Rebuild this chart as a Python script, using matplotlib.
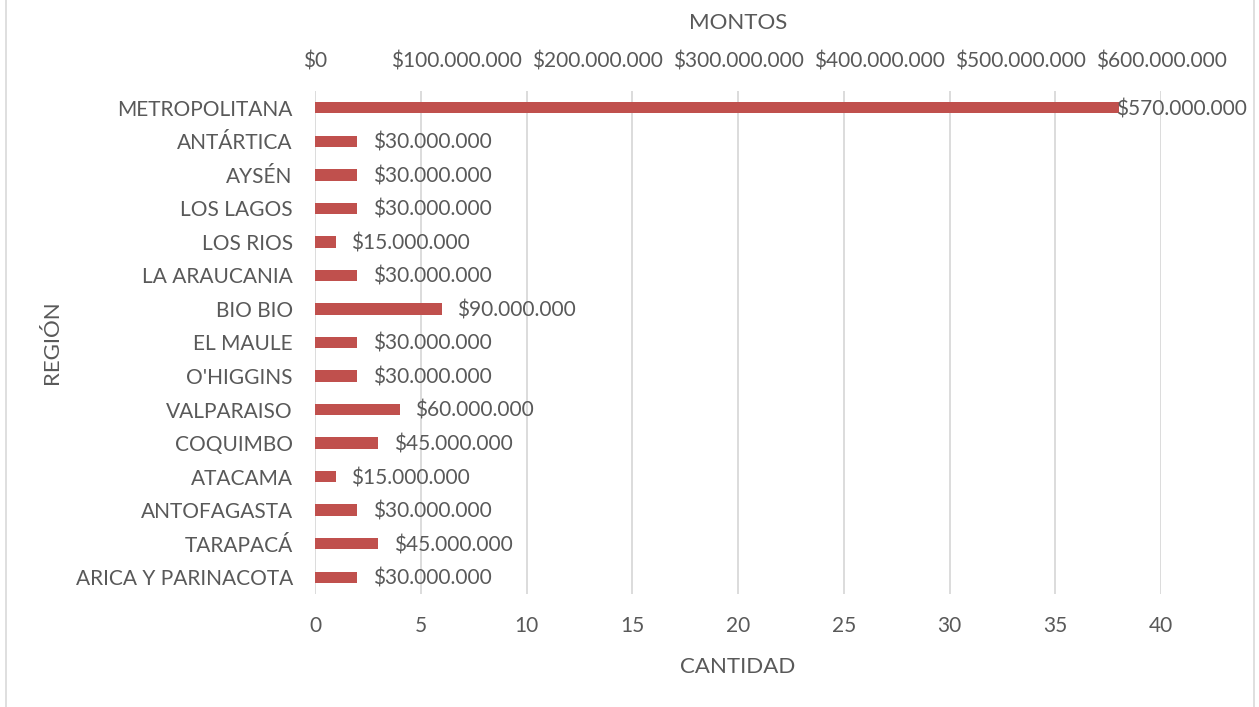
import matplotlib
matplotlib.use("Agg")
import matplotlib.pyplot as plt
from matplotlib.lines import Line2D

regions = ["ARICA Y PARINACOTA", "TARAPACÁ", "ANTOFAGASTA", "ATACAMA", "COQUIMBO",
           "VALPARAISO", "O'HIGGINS", "EL MAULE", "BIO BIO", "LA ARAUCANIA",
           "LOS RIOS", "LOS LAGOS", "AYSÉN", "ANTÁRTICA", "METROPOLITANA"]
cantidad = [2, 3, 2, 1, 3, 4, 2, 2, 6, 2, 1, 2, 2, 2, 38]
montos = [30000000, 45000000, 30000000, 15000000, 45000000, 60000000, 30000000,
          30000000, 90000000, 30000000, 15000000, 30000000, 30000000, 30000000,
          570000000]
cantidad_ticks = [0, 5, 10, 15, 20, 25, 30, 35, 40]
montos_ticks = [0, 100000000, 200000000, 300000000, 400000000, 500000000, 600000000]

FONT = ["Lato", "DejaVu Sans"]
TXT = "#595959"
BAR = "#C0504D"
FS = 15

def fmt(v):
    return "$" + f"{v:,.0f}".replace(",", ".")

W, H = 1259, 707
fig = plt.figure(figsize=(W / 100, H / 100), dpi=100)
x0, x1, y0, y1 = 315, 1161, 91, 594
ax = fig.add_axes([x0 / W, 1 - y1 / H, (x1 - x0) / W, (y1 - y0) / H])

ypos = list(range(len(regions)))
ax.barh(ypos, cantidad, height=0.34, color=BAR, zorder=3)
ax.set_xlim(0, 40)
ax.set_ylim(-0.5, len(regions) - 0.5)
ax.set_yticks(ypos)
ax.set_yticklabels(regions, fontsize=FS, color=TXT, family=FONT)
ax.set_xticks(cantidad_ticks)
ax.set_xticklabels([str(t) for t in cantidad_ticks], fontsize=FS, color=TXT, family=FONT)
ax.tick_params(axis="both", length=0)
ax.tick_params(axis="x", pad=16)
ax.tick_params(axis="y", pad=16)
for s in ax.spines.values():
    s.set_visible(False)
ax.grid(axis="x", color="#D9D9D9", linewidth=1.3, zorder=0)
ax.set_axisbelow(True)

ax.set_xlabel("CANTIDAD", fontsize=FS + 1, color=TXT, family=FONT, labelpad=15)
ax.set_ylabel("REGIÓN", fontsize=FS + 1, color=TXT, family=FONT, labelpad=10)

# data labels
for y, c, m in zip(ypos, cantidad, montos):
    if c > 30:
        ax.annotate(fmt(m), (c, y), xytext=(-2, -1), textcoords="offset points",
                    ha="left", va="center", fontsize=FS, color=TXT, family=FONT, zorder=4)
    else:
        ax.annotate(fmt(m), (c, y), xytext=(11, -1), textcoords="offset points",
                    ha="left", va="center", fontsize=FS, color=TXT, family=FONT, zorder=4)

ax2 = ax.twiny()
ax2.set_xlim(0, 600000000)
ax2.set_xticks(montos_ticks)
ax2.set_xticklabels([fmt(t) for t in montos_ticks], fontsize=FS, color=TXT, family=FONT)
ax2.tick_params(axis="x", length=0, pad=14)
for s in ax2.spines.values():
    s.set_visible(False)
ax2.set_xlabel("MONTOS", fontsize=FS + 1, color=TXT, family=FONT, labelpad=16)

# chart frame lines
fig.add_artist(Line2D([6 / W, 6 / W], [0, 1], color="#D9D9D9", linewidth=1.2))
fig.add_artist(Line2D([1254 / W, 1254 / W], [0, 1], color="#D9D9D9", linewidth=1.2))

fig.savefig("out.png", dpi=100)
